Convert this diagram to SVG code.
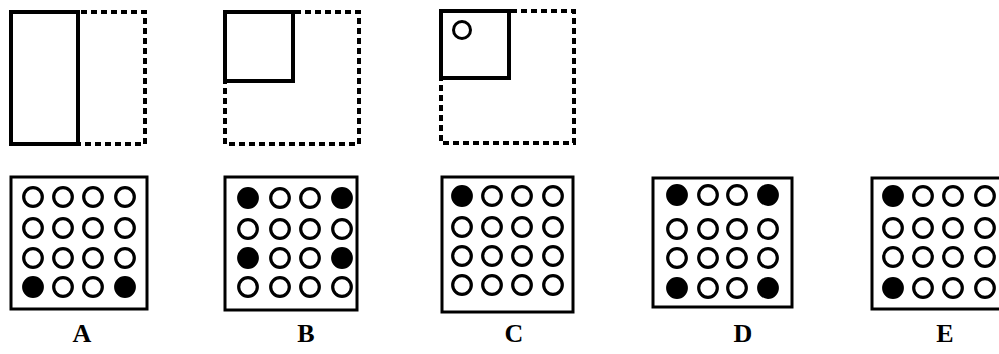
<svg xmlns="http://www.w3.org/2000/svg" width="999" height="354" viewBox="0 0 999 354">
<style>
.solid{fill:none;stroke:#000;stroke-width:4}
.dash{fill:none;stroke:#000;stroke-width:4;stroke-dasharray:6 4}
.frame{fill:none;stroke:#000;stroke-width:3}
.o{fill:#fff;stroke:#000;stroke-width:3.2}
.f{fill:#000;stroke:#000;stroke-width:3.2}
.lbl{font-family:"Liberation Serif",serif;font-weight:bold;font-size:26px;text-anchor:middle;fill:#000}
</style>
<defs>
<circle id="o" r="9.3" class="o"/>
<circle id="f" r="9.3" class="f"/>
</defs>
<rect width="999" height="354" fill="#fff"/>
<g id="fig1">
<rect x="11" y="12" width="134" height="132" class="dash"/>
<rect x="11" y="12" width="67" height="132" class="solid" fill="#fff"/>
</g>
<g id="fig2">
<rect x="225" y="12" width="134" height="132" class="dash"/>
<rect x="225" y="12" width="68" height="69" class="solid"/>
</g>
<g id="fig3">
<rect x="441" y="11" width="133" height="132" class="dash"/>
<rect x="441" y="11" width="68" height="67" class="solid"/>
<circle cx="462" cy="30" r="8.5" fill="none" stroke="#000" stroke-width="3"/>
</g>
<g id="optA">
<rect x="11" y="177" width="136" height="132" class="frame"/>
<use href="#o" x="33" y="197"/><use href="#o" x="63" y="197"/><use href="#o" x="93" y="197"/><use href="#o" x="125" y="197"/>
<use href="#o" x="33" y="228"/><use href="#o" x="63" y="228"/><use href="#o" x="93" y="228"/><use href="#o" x="125" y="228"/>
<use href="#o" x="33" y="258"/><use href="#o" x="63" y="258"/><use href="#o" x="93" y="258"/><use href="#o" x="125" y="258"/>
<use href="#f" x="33" y="287"/><use href="#o" x="63" y="287"/><use href="#o" x="93" y="287"/><use href="#f" x="125" y="287"/>
<text x="82" y="342" class="lbl">A</text>
</g>
<g id="optB">
<rect x="225" y="177" width="132" height="133" class="frame"/>
<use href="#f" x="248" y="198"/><use href="#o" x="280" y="198"/><use href="#o" x="310" y="198"/><use href="#f" x="342" y="198"/>
<use href="#o" x="248" y="229"/><use href="#o" x="280" y="229"/><use href="#o" x="310" y="229"/><use href="#o" x="342" y="229"/>
<use href="#f" x="248" y="258"/><use href="#o" x="280" y="258"/><use href="#o" x="310" y="258"/><use href="#f" x="342" y="258"/>
<use href="#o" x="248" y="287"/><use href="#o" x="280" y="287"/><use href="#o" x="310" y="287"/><use href="#o" x="342" y="287"/>
<text x="306" y="342" class="lbl">B</text>
</g>
<g id="optC">
<rect x="442" y="177" width="131" height="135" class="frame"/>
<use href="#f" x="462" y="196"/><use href="#o" x="492" y="196"/><use href="#o" x="522" y="196"/><use href="#o" x="553" y="196"/>
<use href="#o" x="462" y="227"/><use href="#o" x="492" y="227"/><use href="#o" x="522" y="227"/><use href="#o" x="553" y="227"/>
<use href="#o" x="462" y="256"/><use href="#o" x="492" y="256"/><use href="#o" x="522" y="256"/><use href="#o" x="553" y="256"/>
<use href="#o" x="462" y="285"/><use href="#o" x="492" y="285"/><use href="#o" x="522" y="285"/><use href="#o" x="553" y="285"/>
<text x="514" y="342" class="lbl">C</text>
</g>
<g id="optD">
<rect x="653" y="178" width="139" height="129" class="frame"/>
<use href="#f" x="677" y="195"/><use href="#o" x="708" y="195"/><use href="#o" x="737" y="195"/><use href="#f" x="768" y="195"/>
<use href="#o" x="677" y="229"/><use href="#o" x="708" y="229"/><use href="#o" x="737" y="229"/><use href="#o" x="768" y="229"/>
<use href="#o" x="677" y="258"/><use href="#o" x="708" y="258"/><use href="#o" x="737" y="258"/><use href="#o" x="768" y="258"/>
<use href="#f" x="677" y="288"/><use href="#o" x="708" y="288"/><use href="#o" x="737" y="288"/><use href="#f" x="768" y="288"/>
<text x="743" y="342" class="lbl">D</text>
</g>
<g id="optE">
<rect x="872" y="178" width="140" height="131" class="frame"/>
<use href="#f" x="893" y="196"/><use href="#o" x="923" y="196"/><use href="#o" x="953" y="196"/><use href="#o" x="985" y="196"/>
<use href="#o" x="893" y="228"/><use href="#o" x="923" y="228"/><use href="#o" x="953" y="228"/><use href="#o" x="985" y="228"/>
<use href="#o" x="893" y="257"/><use href="#o" x="923" y="257"/><use href="#o" x="953" y="257"/><use href="#o" x="985" y="257"/>
<use href="#f" x="893" y="288"/><use href="#o" x="923" y="288"/><use href="#o" x="953" y="288"/><use href="#o" x="985" y="288"/>
<text x="945" y="342" class="lbl">E</text>
</g>
</svg>
